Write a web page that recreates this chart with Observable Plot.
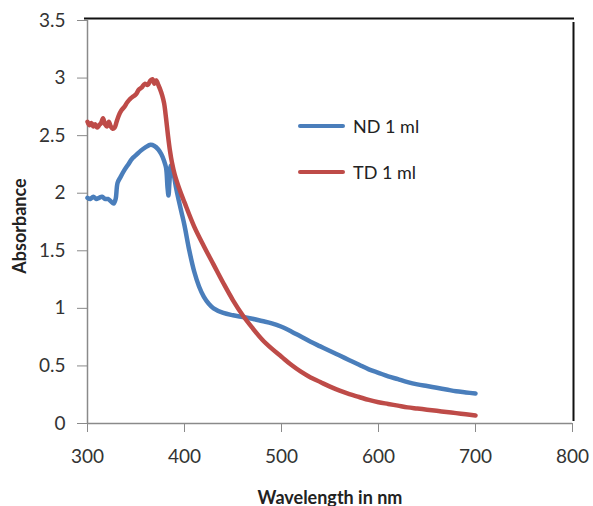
<!DOCTYPE html>
<html>
<head>
<meta charset="utf-8">
<script src="https://cdn.jsdelivr.net/npm/d3@7"></script>
<script src="https://cdn.jsdelivr.net/npm/@observablehq/plot@0.6"></script>
<style>
  html, body { margin: 0; padding: 0; background: #fff; }
  #wrap { position: relative; width: 593px; height: 506px; font-family: Lato, "Open Sans", sans-serif; }
  .leg { position: absolute; display: flex; align-items: center; font-size: 18px; color: #222; }
  .leg span.sw { display: inline-block; width: 47px; height: 4px; border-radius: 2px; margin-right: 8px; }
</style>
</head>
<body>
<div id="wrap"></div>
<script>
const seriesNames = ["ND 1 ml", "TD 1 ml"];
const seriesColors = ["#4a7ebb", "#be4b48"];

const ndWavelength = [300,303,306,309,312,315,318,321,324,327,329,331,334,338,342,346,350,355,360,365,369,373,376,379,381,382.5,383.5,384.5,386,388,391,394,397,400,405,410,415,420,425,430,440,450,460,470,480,490,500,510,520,530,540,550,560,570,580,590,600,610,620,630,640,650,660,670,680,690,700];
const ndAbs = [1.96,1.95,1.97,1.95,1.96,1.97,1.95,1.95,1.93,1.91,1.95,2.09,2.14,2.20,2.25,2.30,2.33,2.37,2.40,2.42,2.41,2.38,2.34,2.28,2.22,2.05,1.98,2.10,2.24,2.20,2.06,1.94,1.83,1.72,1.50,1.32,1.19,1.10,1.04,1.00,0.96,0.94,0.925,0.91,0.89,0.87,0.84,0.80,0.755,0.71,0.67,0.63,0.59,0.55,0.51,0.47,0.44,0.41,0.385,0.36,0.34,0.325,0.31,0.295,0.28,0.27,0.26];

const tdWavelength = [300,302,304,306,308,310,312,314,316,318,320,322,324,326,328,330,332,335,338,341,344,347,350,353,356,359,362,365,367,369,371,373,375,377,379,381,383,385,387,390,395,400,410,420,430,440,450,460,470,480,490,500,510,520,530,540,550,560,570,580,590,600,610,620,630,640,650,660,670,680,690,700];
const tdAbs = [2.62,2.59,2.61,2.58,2.60,2.57,2.59,2.61,2.65,2.60,2.58,2.62,2.58,2.56,2.57,2.62,2.67,2.72,2.75,2.79,2.82,2.84,2.86,2.90,2.92,2.95,2.94,2.98,2.99,2.95,2.98,2.94,2.90,2.85,2.78,2.65,2.50,2.37,2.27,2.16,2.03,1.92,1.71,1.54,1.38,1.22,1.07,0.94,0.83,0.73,0.65,0.58,0.51,0.45,0.40,0.36,0.32,0.285,0.255,0.23,0.205,0.185,0.17,0.155,0.14,0.13,0.12,0.11,0.10,0.09,0.08,0.07];

const xTicks = [300, 400, 500, 600, 700, 800];
const yTicks = [0, 0.5, 1, 1.5, 2, 2.5, 3, 3.5];
const yTickLabels = ["0", "0.5", "1", "1.5", "2", "2.5", "3", "3.5"];

const nd = ndWavelength.map((w, i) => ({w, a: ndAbs[i], s: seriesNames[0]}));
const td = tdWavelength.map((w, i) => ({w, a: tdAbs[i], s: seriesNames[1]}));

const chart = Plot.plot({
  width: 593,
  height: 506,
  marginLeft: 87,
  marginRight: 21,
  marginTop: 20,
  marginBottom: 83,
  style: {fontFamily: "Lato, 'Open Sans', sans-serif", background: "#fff", color: "#333"},
  x: {domain: [300, 800]},
  y: {domain: [0, 3.5]},
  marks: [
    Plot.ruleY([3.5], {stroke: "#111", strokeWidth: 2, dy: -2, insetLeft: -3, insetRight: -2}),
    Plot.ruleX([800], {stroke: "#111", strokeWidth: 2, dx: 1, insetTop: 2, insetBottom: 2}),
    Plot.ruleX([300], {stroke: "#8a8a8a", strokeWidth: 1.5}),
    Plot.ruleY([0], {stroke: "#8a8a8a", strokeWidth: 1.5}),
    Plot.axisX({ticks: xTicks, tickSize: 9, tickPadding: 17, stroke: "#8a8a8a", fontSize: 19, fill: "#333",
      label: "Wavelength in nm", labelAnchor: "center", labelArrow: "none", labelOffset: 80}),
    Plot.axisY({ticks: yTicks, tickFormat: (d) => yTickLabels[yTicks.indexOf(d)], tickSize: 10, tickPadding: 12,
      stroke: "#8a8a8a", fontSize: 19, fill: "#333", label: null}),
    Plot.line(nd, {x: "w", y: "a", stroke: seriesColors[0], strokeWidth: 4.5, curve: "catmull-rom", strokeLinecap: "round", strokeLinejoin: "round"}),
    Plot.line(td, {x: "w", y: "a", stroke: seriesColors[1], strokeWidth: 4.5, curve: "catmull-rom", strokeLinecap: "round", strokeLinejoin: "round"})
  ]
});
document.getElementById("wrap").appendChild(chart);

const svg = d3.select(chart);
svg.selectAll("[aria-label='x-axis label'] text").attr("font-weight", "bold").attr("font-size", 18).attr("fill", "#222");

svg.append("text")
  .attr("transform", "translate(26,226) rotate(-90)")
  .attr("text-anchor", "middle")
  .attr("font-weight", "bold")
  .attr("font-size", 18)
  .attr("fill", "#222")
  .attr("font-family", "Lato, 'Open Sans', sans-serif")
  .text("Absorbance");

const wrap = document.getElementById("wrap");
const legendTops = [115, 161];
seriesNames.forEach((n, i) => {
  const d = document.createElement("div");
  d.className = "leg";
  d.style.left = "298px";
  d.style.top = legendTops[i] + "px";
  d.innerHTML = `<span class="sw" style="background:${seriesColors[i]}"></span><span>${n}</span>`;
  wrap.appendChild(d);
});
</script>
</body>
</html>
